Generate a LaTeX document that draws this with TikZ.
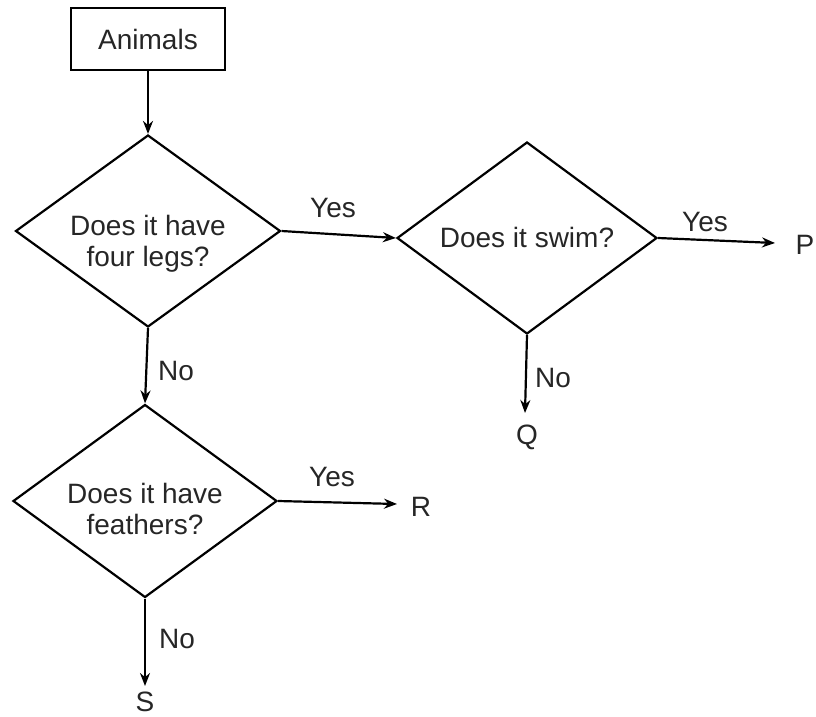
\documentclass[tikz,border=0pt]{standalone}
\usepackage{fontspec}
\setmainfont{Liberation Sans}
\usetikzlibrary{shapes.geometric,arrows.meta}
\begin{document}
\begin{tikzpicture}[x=1pt,y=-1pt,
  line width=2.2pt,
  txt/.style={font=\fontsize{28}{31}\selectfont, inner sep=0pt, align=center, text=black!85},
  decision/.style n args={2}{draw, diamond, inner sep=0pt, minimum width=#1, minimum height=#2},
  startbox/.style={draw, rectangle, inner sep=0pt, minimum width=154pt, minimum height=62pt, line width=2pt, font=\fontsize{28}{30}\selectfont, text=black!85},
  arr/.style={-{Stealth[length=13pt,width=10pt]}}]
\useasboundingbox (0,0) rectangle (816,717);

% nodes
\node[startbox] (animals) at (148,39) {Animals};

\node[decision={265pt}{192pt}] (d1) at (148,231) {};
\node[txt] (d1t) at (148,244) {Does it have\\four legs?};

\node[decision={260pt}{192pt}] (d2) at (527,238) {};
\node[txt] (d2t) at (527,237) {Does it swim?};

\node[decision={264pt}{193pt}] (d3) at (145,501) {};
\node[txt] (d3t) at (145,509) {Does it have\\feathers?};

\node[txt] (P) at (805,245) {P};
\node[txt] (Q) at (527,437) {Q};
\node[txt] (R) at (421,507) {R};
\node[txt] (S) at (145,702) {S};

\coordinate (pend) at (775,243);
\coordinate (qend) at (525,413);
\coordinate (rend) at (397,504);
\coordinate (send) at (145,686);

% connectors
\draw[arr] (animals.south) -- (d1.north);
\draw[arr] (d1.east) -- (d2.west);
\draw[arr] (d2.east) -- (pend);
\draw[arr] (d2.south) -- (qend);
\draw[arr] (d1.south) -- (d3.north);
\draw[arr] (d3.east) -- (rend);
\draw[arr] (d3.south) -- (send);

% labels
\node[txt] (yes1) at (333,208) {Yes};
\node[txt] (yes2) at (705,222) {Yes};
\node[txt] (no2) at (553,378) {No};
\node[txt] (no1) at (176,371) {No};
\node[txt] (yes3) at (332,477) {Yes};
\node[txt] (no3) at (177,639) {No};
\end{tikzpicture}
\end{document}
